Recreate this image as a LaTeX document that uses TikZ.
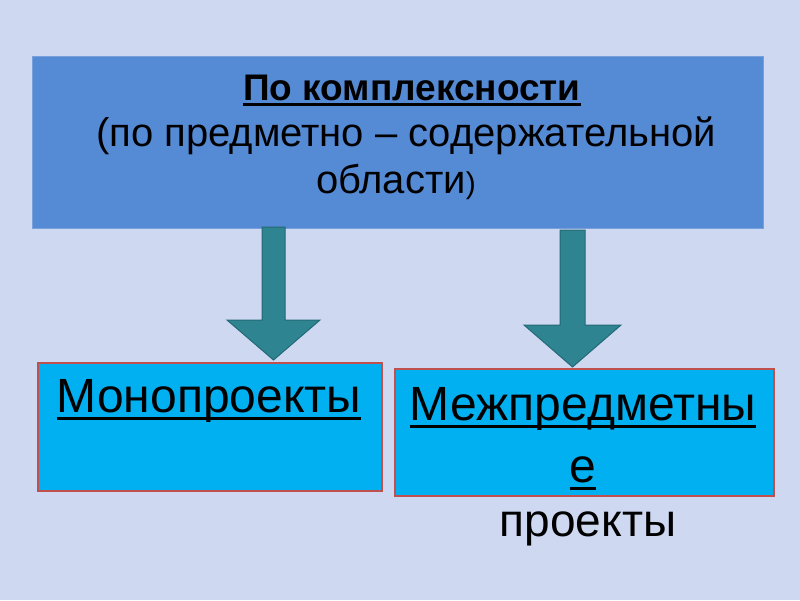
\documentclass[tikz,border=0pt]{standalone}
\usepackage{fontspec}
\setmainfont{Liberation Sans}
\usetikzlibrary{calc}
\definecolor{bgc}{RGB}{206,216,241}
\definecolor{topc}{RGB}{85,138,213}
\definecolor{topline}{RGB}{120,160,220}
\definecolor{boxc}{RGB}{0,176,240}
\definecolor{boxline}{RGB}{192,80,77}
\definecolor{arrc}{RGB}{46,132,145}
\definecolor{arrline}{RGB}{35,105,118}
\newcommand\myul[3]{\vtop{\hbox{\smash{#3}}\kern#2\hrule height #1}}
\tikzset{
  topbox/.style={fill=topc,draw=topline,line width=0.8pt},
  childbox/.style={fill=boxc,draw=boxline,line width=1.5pt},
  blockarrow/.style={fill=arrc,draw=arrline,line width=1pt,line join=miter},
  txt/.style={inner sep=0pt,anchor=base,text=black},
}
\begin{document}
\begin{tikzpicture}[x=1pt,y=-1pt]
\fill[bgc] (0,0) rectangle (800,600);
\useasboundingbox (0,0) rectangle (800,600);
% top box
\node[topbox,minimum width=731pt,minimum height=172pt,anchor=north west,inner sep=0pt] (top) at (32,56) {};
\node[txt] (t1) at (412,100) {\fontsize{37}{44}\selectfont\bfseries\myul{2.5pt}{3pt}{По комплексности}};
\node[txt] (t2) at (406,146) {\fontsize{40}{46}\selectfont(по предметно – содержательной};
\node[txt] (t3) at (396,193) {\fontsize{40}{46}\selectfont области\fontsize{30}{36}\selectfont)};
% arrows
\coordinate (a1s) at (273.5,227);
\coordinate (a1t) at (273.5,360);
\coordinate (a2s) at (572.5,230);
\coordinate (a2t) at (572.5,367);
\draw[blockarrow] ($(a1s)+(-11.5,0)$) -- ($(a1s)+(11.5,0)$) -- ($(a1t)+(11.5,-40)$) -- ($(a1t)+(46.5,-40)$) -- (a1t) -- ($(a1t)+(-46.5,-40)$) -- ($(a1t)+(-11.5,-40)$) -- cycle;
\draw[blockarrow] ($(a2s)+(-12.5,0)$) -- ($(a2s)+(12.5,0)$) -- ($(a2t)+(12.5,-42)$) -- ($(a2t)+(48.5,-42)$) -- (a2t) -- ($(a2t)+(-48.5,-42)$) -- ($(a2t)+(-12.5,-42)$) -- cycle;
% child boxes
\node[childbox,minimum width=344pt,minimum height=128pt,anchor=north west,inner sep=0pt] (mono) at (37,362) {};
\node[childbox,minimum width=379pt,minimum height=127pt,anchor=north west,inner sep=0pt] (mezh) at (394,368) {};
\node[txt] (m1) at (209,412) {\fontsize{48}{56}\selectfont\myul{3pt}{4.5pt}{Монопроекты}};
\node[txt] (z1) at (583,420) {\fontsize{48}{56}\selectfont\myul{3pt}{4.5pt}{Межпредметны}};
\node[txt] (z2) at (583,482) {\fontsize{48}{56}\selectfont\myul{3pt}{4.5pt}{е}};
\node[txt] (z3) at (588,536) {\fontsize{46}{56}\selectfont проекты};
\end{tikzpicture}
\end{document}
